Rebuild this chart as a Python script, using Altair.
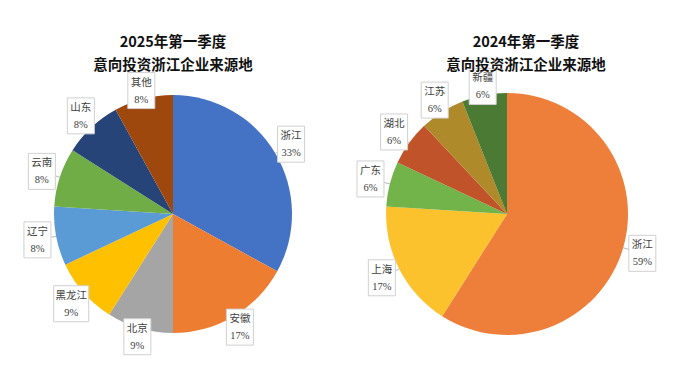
import altair as alt
import pandas as pd

# ---- data ----
names_2025 = ["浙江", "安徽", "北京", "黑龙江", "辽宁", "云南", "山东", "其他"]
values_2025 = [33, 17, 9, 9, 8, 8, 8, 8]
colors_2025 = ["#4472C4", "#ED7D31", "#A5A5A5", "#FFC000", "#5B9BD5", "#70AD47", "#264478", "#9E480E"]
title_2025 = "2025年第一季度\n意向投资浙江企业来源地"

names_2024 = ["浙江", "上海", "广东", "湖北", "江苏", "新疆"]
values_2024 = [59, 17, 6, 6, 6, 6]
colors_2024 = ["#EE7F3A", "#FCC22E", "#72B34A", "#C0532A", "#AE8A2A", "#4A7A34"]
title_2024 = "2024年第一季度\n意向投资浙江企业来源地"

PW, PH = 339, 362
LABEL_FONT = "Liberation Serif, Noto Sans CJK SC"


def panel(names, values, colors, title, cx, cy, R, RL, tx):
    df = pd.DataFrame({"name": names, "value": values, "idx": list(range(len(names)))})
    xs = alt.Scale(domain=[0, PW], range=[0, PW])
    ys = alt.Scale(domain=[0, PH], range=[0, PH])
    base = alt.Chart(df)

    pie = base.mark_arc(radius=R, stroke=None).encode(
        theta=alt.Theta("value:Q", stack=True, scale=alt.Scale(range=[0, 6.283185307])),
        order=alt.Order("idx:Q"),
        color=alt.Color("name:N", scale=alt.Scale(domain=names, range=colors), legend=None),
        x=alt.value(cx),
        y=alt.value(cy),
    )

    pos = base.transform_joinaggregate(total="sum(value)").transform_window(
        cum="sum(value)", sort=[alt.SortField("idx")], frame=[None, 0]
    ).transform_calculate(
        mid="(datum.cum - datum.value/2)/datum.total*2*PI",
    ).transform_calculate(
        rl=f"{RL} - 12*pow(abs(cos(datum.mid)), 4)",
    ).transform_calculate(
        lx=f"{cx} + datum.rl*sin(datum.mid)",
        ly=f"{cy} - datum.rl*cos(datum.mid)",
        ex=f"{cx} + {R}*sin(datum.mid)",
        ey=f"{cy} - {R}*cos(datum.mid)",
        bw="max(10*length(datum.name), 22) + 5",
        pct="datum.value + '%'",
    ).transform_calculate(
        bx1="datum.lx - datum.bw/2",
        bx2="datum.lx + datum.bw/2",
        by1="datum.ly - 18",
        by2="datum.ly + 18",
    )

    leader = pos.mark_rule(color="#A6A6A6", strokeWidth=0.8).encode(
        x=alt.X("ex:Q", scale=xs, axis=None),
        y=alt.Y("ey:Q", scale=ys, axis=None),
        x2="lx:Q",
        y2="ly:Q",
    )
    box = pos.mark_rect(fill="white", stroke="#D0D0D0", strokeWidth=1).encode(
        x=alt.X("bx1:Q", scale=xs, axis=None),
        x2="bx2:Q",
        y=alt.Y("by1:Q", scale=ys, axis=None),
        y2="by2:Q",
    )
    t1 = pos.mark_text(font=LABEL_FONT, fontSize=10.5, color="#404040", dy=-8).encode(
        x=alt.X("lx:Q", scale=xs, axis=None),
        y=alt.Y("ly:Q", scale=ys, axis=None),
        text="name:N",
    )
    t2 = pos.mark_text(font=LABEL_FONT, fontSize=10.5, color="#404040", dy=9).encode(
        x=alt.X("lx:Q", scale=xs, axis=None),
        y=alt.Y("ly:Q", scale=ys, axis=None),
        text="pct:N",
    )
    ttl = alt.Chart(pd.DataFrame({"t": [title]})).mark_text(
        font="Noto Sans CJK SC", fontSize=14.5, fontWeight="bold", color="#111111",
        lineBreak="\n", lineHeight=23, baseline="middle",
    ).encode(x=alt.value(tx), y=alt.value(35), text="t:N")

    return alt.layer(pie, leader, box, t1, t2, ttl).properties(width=PW, height=PH)


left = panel(names_2025, values_2025, colors_2025, title_2025, 165, 206, 119, 138, 165)
right = panel(names_2024, values_2024, colors_2024, title_2024, 160, 206, 121, 141, 179)

chart = alt.hconcat(left, right, spacing=0).resolve_scale(
    color="independent"
).properties(padding=0).configure_view(stroke=None)

chart.save("out.html", embed_options={"renderer": "svg", "actions": False})
